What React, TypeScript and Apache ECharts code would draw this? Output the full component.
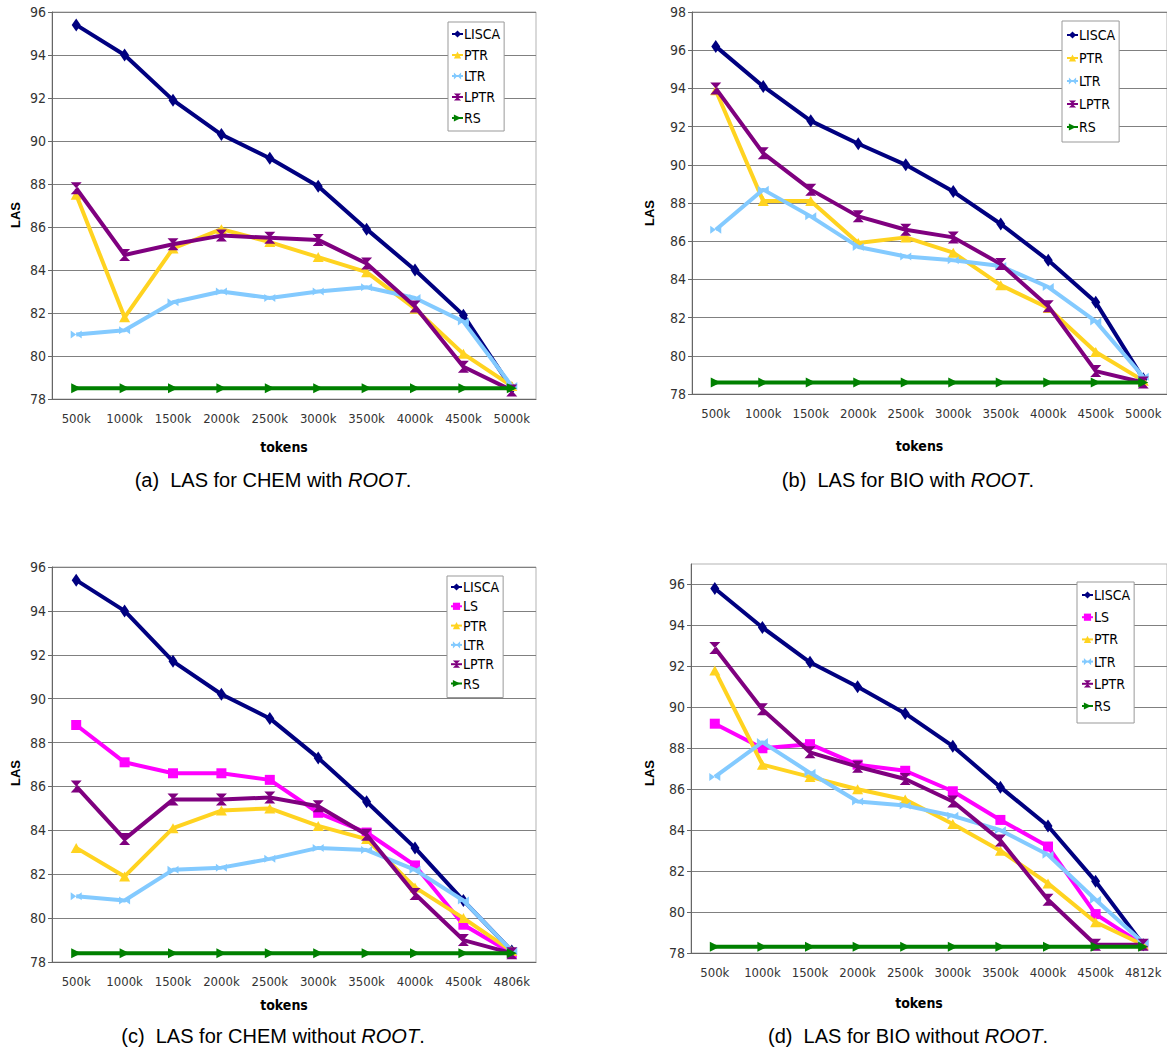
import React, { useEffect, useRef } from 'react';
import * as echarts from 'echarts';

// ---------- categories ----------
const tokensA = ['500k', '1000k', '1500k', '2000k', '2500k', '3000k', '3500k', '4000k', '4500k', '5000k'];
const tokensB = ['500k', '1000k', '1500k', '2000k', '2500k', '3000k', '3500k', '4000k', '4500k', '5000k'];
const tokensC = ['500k', '1000k', '1500k', '2000k', '2500k', '3000k', '3500k', '4000k', '4500k', '4806k'];
const tokensD = ['500k', '1000k', '1500k', '2000k', '2500k', '3000k', '3500k', '4000k', '4500k', '4812k'];

// ---------- (a) CHEM with ROOT ----------
const aLISCA = [95.4, 94.0, 91.9, 90.3, 89.2, 87.9, 85.9, 84.0, 81.9, 78.5];
const aPTR = [87.5, 81.8, 85.0, 85.9, 85.3, 84.6, 83.9, 82.2, 80.1, 78.6];
const aLTR = [81.0, 81.2, 82.5, 83.0, 82.7, 83.0, 83.2, 82.7, 81.6, 78.6];
const aLPTR = [87.8, 84.7, 85.2, 85.6, 85.5, 85.4, 84.3, 82.3, 79.5, 78.4];
const aRS = [78.5, 78.5, 78.5, 78.5, 78.5, 78.5, 78.5, 78.5, 78.5, 78.5];

// ---------- (b) BIO with ROOT ----------
const bLISCA = [96.2, 94.1, 92.3, 91.1, 90.0, 88.6, 86.9, 85.0, 82.8, 78.8];
const bPTR = [93.9, 88.1, 88.1, 85.9, 86.2, 85.4, 83.7, 82.5, 80.2, 78.7];
const bLTR = [86.6, 88.7, 87.3, 85.7, 85.2, 85.0, 84.7, 83.6, 81.8, 78.9];
const bLPTR = [94.0, 90.6, 88.7, 87.3, 86.6, 86.2, 84.8, 82.6, 79.2, 78.6];
const bRS = [78.6, 78.6, 78.6, 78.6, 78.6, 78.6, 78.6, 78.6, 78.6, 78.6];

// ---------- (c) CHEM without ROOT ----------
const cLISCA = [95.4, 94.0, 91.7, 90.2, 89.1, 87.3, 85.3, 83.2, 80.8, 78.5];
const cLS = [88.8, 87.1, 86.6, 86.6, 86.3, 84.8, 83.9, 82.4, 79.7, 78.4];
const cPTR = [83.2, 81.9, 84.1, 84.9, 85.0, 84.2, 83.6, 81.4, 80.0, 78.5];
const cLTR = [81.0, 80.8, 82.2, 82.3, 82.7, 83.2, 83.1, 82.2, 80.8, 78.5];
const cLPTR = [86.0, 83.6, 85.4, 85.4, 85.5, 85.1, 83.8, 81.1, 79.0, 78.4];
const cRS = [78.4, 78.4, 78.4, 78.4, 78.4, 78.4, 78.4, 78.4, 78.4, 78.4];

// ---------- (d) BIO without ROOT ----------
const dLISCA = [95.8, 93.9, 92.2, 91.0, 89.7, 88.1, 86.1, 84.2, 81.5, 78.4];
const dLS = [89.2, 88.0, 88.2, 87.2, 86.9, 85.9, 84.5, 83.2, 79.9, 78.4];
const dPTR = [91.8, 87.2, 86.6, 86.0, 85.5, 84.3, 83.0, 81.4, 79.5, 78.4];
const dLTR = [86.6, 88.3, 86.8, 85.4, 85.2, 84.7, 84.0, 82.8, 80.6, 78.5];
const dLPTR = [92.9, 89.9, 87.8, 87.1, 86.5, 85.4, 83.5, 80.6, 78.4, 78.4];
const dRS = [78.3, 78.3, 78.3, 78.3, 78.3, 78.3, 78.3, 78.3, 78.3, 78.3];

// ---------- y-axis ticks ----------
const yTicksA = [78, 80, 82, 84, 86, 88, 90, 92, 94, 96];
const yTicksB = [78, 80, 82, 84, 86, 88, 90, 92, 94, 96, 98];
const yTicksC = [78, 80, 82, 84, 86, 88, 90, 92, 94, 96];
const yTicksD = [78, 80, 82, 84, 86, 88, 90, 92, 94, 96];

const captions = [
  { label: '(a)', text: 'LAS for CHEM with ' },
  { label: '(b)', text: 'LAS for BIO with ' },
  { label: '(c)', text: 'LAS for CHEM without ' },
  { label: '(d)', text: 'LAS for BIO without ' },
];

const NARROW = '"Liberation Sans Narrow", "DejaVu Sans Condensed", "Roboto Condensed", "Liberation Sans", sans-serif';
const SANS = '"Liberation Sans", Arial, Helvetica, sans-serif';

const STYLE: Record<string, { color: string; symbol: string; size: any }> = {
  LISCA: { color: '#000080', symbol: 'diamond', size: [9, 13] },
  LS: { color: '#ff00ff', symbol: 'rect', size: [10, 10] },
  PTR: { color: '#ffd320', symbol: 'triangle', size: [11, 10] },
  LTR: { color: '#83caff', symbol: 'path://M0,0L10,10L10,0L0,10Z', size: [11, 8] },
  LPTR: { color: '#7f007f', symbol: 'path://M0,0L10,0L0,10L10,10Z', size: [11, 12] },
  RS: { color: '#008000', symbol: 'path://M0,0L10,5L0,10Z', size: [10, 10] },
};

function App() {
  const ref = useRef<HTMLDivElement>(null);

  useEffect(() => {
    if (!ref.current) return;
    const chart = echarts.init(ref.current, undefined, { renderer: 'svg' });

    const panels = [
      { cats: tokensA, ticks: yTicksA, min: 78, max: 96, names: ['LISCA', 'PTR', 'LTR', 'LPTR', 'RS'], data: [aLISCA, aPTR, aLTR, aLPTR, aRS],
        grid: { left: 52, top: 12, width: 484, height: 387 }, xGap: 41, yGap: 30, yShift: 19,
        legend: { left: 448, top: 22, gap: 7, padding: [5, 4, 6, 3] }, cap: { x: 273, y: 480 } },
      { cats: tokensB, ticks: yTicksB, min: 78, max: 98, names: ['LISCA', 'PTR', 'LTR', 'LPTR', 'RS'], data: [bLISCA, bPTR, bLTR, bLPTR, bRS],
        grid: { left: 692, top: 12, width: 479, height: 382 }, xGap: 45, yGap: 36, yShift: 20,
        legend: { left: 1062, top: 21, gap: 9, padding: [7, 4, 8, 4] }, cap: { x: 908, y: 480 } },
      { cats: tokensC, ticks: yTicksC, min: 78, max: 96, names: ['LISCA', 'LS', 'PTR', 'LTR', 'LPTR', 'RS'], data: [cLISCA, cLS, cPTR, cLTR, cLPTR, cRS],
        grid: { left: 52, top: 567, width: 484, height: 395 }, xGap: 36, yGap: 30, yShift: 17,
        legend: { left: 447, top: 576, gap: 5.3, padding: [4, 4, 7, 3] }, cap: { x: 273, y: 1036 } },
      { cats: tokensD, ticks: yTicksD, min: 78, max: 97, names: ['LISCA', 'LS', 'PTR', 'LTR', 'LPTR', 'RS'], data: [dLISCA, dLS, dPTR, dLTR, dLPTR, dRS],
        grid: { left: 691, top: 564, width: 480, height: 389 }, xGap: 43, yGap: 35, yShift: 29,
        legend: { left: 1077, top: 582, gap: 8.2, padding: [6, 4, 10, 4] }, cap: { x: 908, y: 1036 } },
    ];

    const grid = panels.map((p) => ({
      ...p.grid,
      show: true,
      borderColor: '#b3b3b3',
      borderWidth: 1,
      backgroundColor: '#ffffff',
      containLabel: false,
    }));

    const xAxis = panels.map((p, i) => ({
      type: 'category',
      gridIndex: i,
      data: p.cats,
      boundaryGap: true,
      name: 'tokens',
      nameLocation: 'middle',
      nameGap: p.xGap,
      nameTextStyle: { fontFamily: NARROW, fontWeight: 'bold', fontSize: 14, color: '#000', padding: [0, 20, 0, 0] },
      axisLine: { show: true, lineStyle: { color: '#666', width: 1 } },
      axisTick: { show: false },
      axisLabel: { fontFamily: NARROW, fontSize: 13, color: '#333', margin: 13, interval: 0 },
      splitLine: { show: false },
    }));

    const yAxis = panels.map((p, i) => ({
      type: 'value',
      gridIndex: i,
      min: p.min,
      max: p.max,
      interval: 2,
      name: 'LAS',
      nameLocation: 'middle',
      nameGap: p.yGap,
      nameTextStyle: { fontFamily: SANS, fontWeight: 'bold', fontSize: 13, color: '#000', padding: [0, p.yShift, 0, 0] },
      axisLine: { show: true, lineStyle: { color: '#666', width: 1 } },
      axisTick: { show: true, length: 4, lineStyle: { color: '#666' }, customValues: p.ticks },
      axisLabel: { fontFamily: NARROW, fontSize: 14, color: '#333', margin: 6, customValues: p.ticks },
      splitLine: { show: true, lineStyle: { color: '#808080', width: 1 } },
    }));

    const series: any[] = [];
    panels.forEach((p, i) => {
      p.names.forEach((name, k) => {
        const st = STYLE[name];
        series.push({
          type: 'line',
          name,
          xAxisIndex: i,
          yAxisIndex: i,
          data: p.data[k],
          symbol: st.symbol,
          symbolSize: st.size,
          lineStyle: { color: st.color, width: 4 },
          itemStyle: { color: st.color },
          emphasis: { disabled: true },
          z: 2 + k * 0.01,
        });
      });
    });

    const legend = panels.map((p) => ({
      orient: 'vertical',
      left: p.legend.left,
      top: p.legend.top,
      data: p.names,
      itemGap: p.legend.gap,
      itemWidth: 11,
      itemHeight: 9,
      padding: p.legend.padding,
      backgroundColor: '#ffffff',
      borderColor: '#999999',
      borderWidth: 1,
      borderRadius: 0,
      selectedMode: false,
      lineStyle: { width: 2 },
      textStyle: { fontFamily: NARROW, fontSize: 14, color: '#000', lineHeight: 14, padding: [0, 0, 0, -4] },
    }));

    const graphic = panels.map((p, i) => ({
      type: 'text',
      x: p.cap.x,
      y: p.cap.y,
      style: {
        text: `${captions[i].label}  ${captions[i].text}{it|ROOT}.`,
        font: `20px ${SANS}`,
        fill: '#000',
        align: 'center',
        verticalAlign: 'middle',
        rich: { it: { fontStyle: 'italic', fontSize: 20, fontFamily: SANS } },
      },
    }));

    chart.setOption({
      animation: false,
      backgroundColor: '#ffffff',
      grid,
      xAxis,
      yAxis,
      legend,
      series,
      graphic,
    } as any);

    return () => chart.dispose();
  }, []);

  return (
    <div
      ref={ref}
      style={{ position: 'absolute', left: 0, top: 0, width: 1167, height: 1051, overflow: 'hidden' }}
    />
  );
}

export default App;
